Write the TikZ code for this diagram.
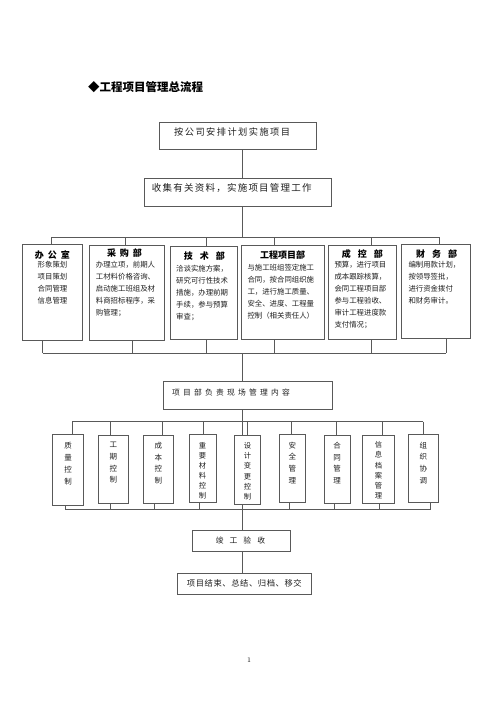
\documentclass[tikz,border=0pt]{standalone}
\usepackage{fontspec}
\newfontfamily\cjk{Noto Sans CJK SC}
\newcommand{\lsp}[1]{\addfontfeature{LetterSpace=#1}}
\definecolor{lc}{gray}{0.35}
\definecolor{tc}{gray}{0.12}
\tikzset{
  bx/.style={draw=lc, line width=0.9pt, inner sep=0pt},
  ln/.style={draw=lc, line width=0.9pt},
  tx/.style={inner sep=0pt, text=tc, font=\cjk},
  hd/.style={inner sep=0pt, text=black, font=\cjk\bfseries\fontsize{9}{10}\selectfont},
  body/.style={tx, anchor=north west, align=left, font=\cjk\fontsize{7.4}{12}\selectfont},
  vfour/.style={tx, anchor=north, align=center, font=\cjk\fontsize{7.5}{11.7}\selectfont},
  vsix/.style={tx, anchor=north, align=center, font=\cjk\fontsize{7.3}{10.1}\selectfont},
}
\begin{document}
\begin{tikzpicture}[x=1pt,y=-1pt]
\useasboundingbox[fill=white] (0,0) rectangle (500,707);

% title
\node[inner sep=0pt, anchor=west, font=\cjk\bfseries\fontsize{11.5}{12}\selectfont] (title) at (88,87.5) {◆工程项目管理总流程};

% top boxes
\node[bx, minimum width=157.4pt, minimum height=27pt] (b1) at (238,135.8) {};
\node[tx, anchor=west, font=\cjk\fontsize{9.2}{10}\selectfont\lsp{16}] (b1t) at (174,131.7) {按公司安排计划实施项目};
\node[bx, minimum width=187.4pt, minimum height=27.7pt] (b2) at (238,192.15) {};
\node[tx, anchor=west, font=\cjk\fontsize{9.5}{10}\selectfont\lsp{13}] (b2t) at (151.7,188.3) {收集有关资料，实施项目管理工作};

% department boxes
\node[bx, minimum width=59.6pt, minimum height=96pt] (d1) at (52.5,292) {};
\node[bx, minimum width=75pt, minimum height=95pt] (d2) at (126.5,292.5) {};
\node[bx, minimum width=67.3pt, minimum height=93pt] (d3) at (203.7,292.5) {};
\node[bx, minimum width=82.6pt, minimum height=94pt] (d4) at (283,292) {};
\node[bx, minimum width=68.4pt, minimum height=94pt] (d5) at (362.5,292) {};
\node[bx, minimum width=68.3pt, minimum height=94.3pt] (d6) at (435.8,291.2) {};

\node[hd] (h1) at (52.3,255) {办\hspace{4pt}公\hspace{4pt}室};
\node[hd] (h2) at (124.5,253.3) {采\hspace{4pt}购\hspace{4pt}部};
\node[hd] (h3) at (204.3,256) {技\hspace{7pt}术\hspace{7pt}部};
\node[hd] (h4) at (282.7,255) {工程项目部};
\node[hd] (h5) at (362.3,254.3) {成\hspace{7pt}控\hspace{7pt}部};
\node[hd] (h6) at (436.7,254.3) {财\hspace{7pt}务\hspace{7pt}部};

\node[body, anchor=north, align=center] (d1t) at (52.5,261.3) {形象策划\\项目策划\\合同管理\\信息管理};
\node[body] (d2t) at (95.7,260.6) {办理立项，前期人\\工材料价格咨询、\\启动施工班组及材\\料商招标程序，采\\购管理；};
\node[body] (d3t) at (176,265.3) {洽谈实施方案，\\研究可行性技术\\措施，办理前期\\手续，参与预算\\审查；};
\node[body] (d4t) at (247.3,263.6) {与施工班组签定施工\\合同，按合同组织施\\工，进行施工质量、\\安全、进度、工程量\\控制（相关责任人）};
\node[body] (d5t) at (334.3,261.3) {预算，进行项目\\成本跟踪核算，\\会同工程项目部\\参与工程验收、\\审计工程进度款\\支付情况；};
\node[body] (d6t) at (408.3,261.3) {编制用款计划，\\按领导签批，\\进行资金拨付\\和财务审计。};

% middle box
\node[bx, minimum width=169.4pt, minimum height=27.6pt] (m) at (248,395.5) {};
\node[tx, anchor=west, font=\cjk\fontsize{7.8}{9}\selectfont\lsp{41}] (mt) at (172,392.3) {项目部负责现场管理内容};

% vertical boxes
\node[bx, minimum width=30.6pt, minimum height=71.7pt] (v1) at (68,469.85) {};
\node[bx, minimum width=30pt, minimum height=67.6pt] (v2) at (113.3,469.5) {};
\node[bx, minimum width=30pt, minimum height=67.6pt] (v3) at (158.3,469.5) {};
\node[bx, minimum width=27pt, minimum height=68.4pt] (v4) at (202.5,468.5) {};
\node[bx, minimum width=26.4pt, minimum height=68.6pt] (v5) at (247.5,470) {};
\node[bx, minimum width=26pt, minimum height=68.4pt] (v6) at (292.3,468.5) {};
\node[bx, minimum width=25.7pt, minimum height=68.3pt] (v7) at (337.15,469.15) {};
\node[bx, minimum width=31.6pt, minimum height=68.3pt] (v8) at (378.5,469.15) {};
\node[bx, minimum width=30.7pt, minimum height=68.7pt] (v9) at (423.35,468.35) {};

\node[vfour] (v1t) at (68,442.5) {质\\量\\控\\制};
\node[vfour] (v2t) at (113.3,442) {工\\期\\控\\制};
\node[vfour] (v3t) at (158.3,442) {成\\本\\控\\制};
\node[vsix] (v4t) at (202.5,442) {重\\要\\材\\料\\控\\制};
\node[vsix] (v5t) at (247.5,442.5) {设\\计\\变\\更\\控\\制};
\node[vfour] (v6t) at (292.3,441.5) {安\\全\\管\\理};
\node[vfour] (v7t) at (337.15,442) {合\\同\\管\\理};
\node[vsix] (v8t) at (378.5,441.5) {信\\息\\档\\案\\管\\理};
\node[vfour] (v9t) at (423.35,441.5) {组\\织\\协\\调};

% end boxes
\node[bx, minimum width=97.7pt, minimum height=21pt] (e1) at (241.15,541.2) {};
\node[tx, anchor=center, font=\cjk\fontsize{7.8}{9}\selectfont] (e1t) at (240.5,540.7) {竣\hspace{6pt}工\hspace{6pt}验\hspace{6pt}收};
\node[bx, minimum width=134.4pt, minimum height=20.7pt] (e2) at (244.5,583.65) {};
\node[tx, anchor=west, font=\cjk\fontsize{8.3}{9}\selectfont\lsp{7}] (e2t) at (186.7,583.3) {项目结束、总结、归档、移交};

\node[inner sep=0pt, font=\fontsize{7}{8}\selectfont] (pg) at (249,660) {1};

% connectors
\coordinate (sx) at (242.5,0);
\draw[ln] (b1.south -| sx) -- (b2.north -| sx);

\foreach \i/\x in {1/51,2/125,3/206.7,4/274.3,5/371,6/439}
  \coordinate (ta\i) at (\x,237);
\coordinate (tb) at (242.5,237);
\draw[ln] (b2.south -| sx) -- (tb);
\draw[ln] (ta1) -- (ta6);
\foreach \i in {1,...,6} \draw[ln] (ta\i) -- (d\i.north -| ta\i);

\foreach \i/\x in {1/42.7,2/132,3/206.7,4/274.3,5/371.7,6/446}
  \coordinate (ba\i) at (\x,353.3);
\draw[ln] (ba1) -- (ba6);
\foreach \i in {1,...,6} \draw[ln] (d\i.south -| ba\i) -- (ba\i);
\coordinate (bb) at (242.5,353.3);
\draw[ln] (bb) -- (m.north -| sx);

\foreach \i/\x in {1/72.3,2/110,3/162.3,4/203.3,5/247.3,6/291.7,7/336.3,8/382.7,9/423.3}
  \coordinate (vt\i) at (\x,421.7);
\draw[ln] (vt1) -- (vt9);
\foreach \i in {1,...,9} \draw[ln] (vt\i) -- (v\i.north -| vt\i);
\draw[ln] (m.south -| sx) -- (v5.north -| sx);

\foreach \i/\x in {1/65,2/110,3/154.3,4/199.3,5/242.5,6/289.3,7/334,8/379,9/430.7}
  \coordinate (vb\i) at (\x,509.5);
\draw[ln] (vb1) -- (vb9);
\foreach \i in {1,...,9} \draw[ln] (v\i.south -| vb\i) -- (vb\i);
\draw[ln] (vb5) -- (e1.north -| sx);
\draw[ln] (e1.south -| sx) -- (e2.north -| sx);
\end{tikzpicture}
\end{document}
